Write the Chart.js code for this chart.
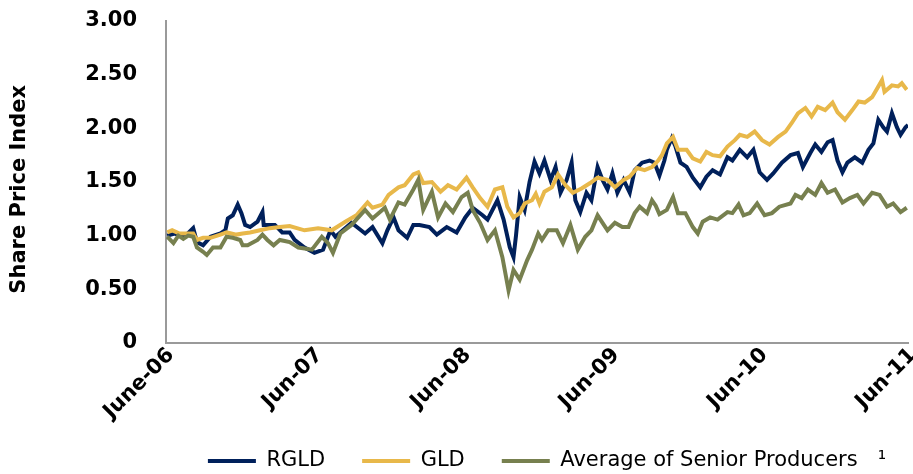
<!DOCTYPE html>
<html><head><meta charset="utf-8">
<script src="https://cdn.jsdelivr.net/npm/chart.js@4.4.1/dist/chart.umd.min.js"></script>
<style>html,body{margin:0;padding:0;background:#fff;}#wrap{width:913px;height:474px;}</style>
</head><body><div id="wrap"><canvas id="c" width="913" height="474"></canvas></div>
<script>
// ---- data (months since June 2006, share price index) ----
const xTickLabels = ['June-06','Jun-07','Jun-08','Jun-09','Jun-10','Jun-11'];
const yTickLabels = ['0','0.50','1.00','1.50','2.00','2.50','3.00'];
const yAxisTitle = 'Share Price Index';
const seriesNames = ['RGLD','GLD','Average of Senior Producers\u00A0\u00A0\u00A0\u00B9'];
const seriesColors = ['#00205b','#e8b84a','#77804f'];

const rgldMonths = [0.1,0.7,1.5,2.2,2.5,3.0,3.6,4.4,4.8,5.0,
  5.4,5.8,6.1,6.4,6.8,7.4,7.8,7.9,8.4,8.8,
  9.4,10.0,10.4,11.2,12.0,12.7,13.3,13.7,14.3,15.0,
  16.1,16.7,17.5,17.9,18.4,18.8,19.5,20.0,20.5,21.3,
  21.9,22.7,23.5,24.2,24.8,25.6,26.0,26.8,27.3,27.8,
  28.1,28.3,28.6,29.0,29.4,29.8,30.2,30.6,31.1,31.5,
  31.9,32.4,32.8,33.1,33.5,34.0,34.4,34.9,35.3,35.7,
  36.1,36.5,37.0,37.5,37.9,38.5,39.1,39.5,39.9,40.3,
  40.5,40.9,41.2,41.6,42.1,42.6,43.2,43.7,44.2,44.8,
  45.4,45.8,46.4,47.0,47.5,48.0,48.6,49.1,49.8,50.5,
  51.1,51.5,52.1,52.5,53.0,53.5,53.9,54.3,54.7,55.1,
  55.7,56.3,56.8,57.2,57.6,58.0,58.3,58.7,59.1,59.4,
  59.8,60.0];
const rgldValues = [1.00,1.02,0.99,1.07,0.94,0.91,0.99,1.02,1.05,1.16,
  1.19,1.29,1.21,1.10,1.08,1.13,1.22,1.10,1.10,1.10,
  1.03,1.03,0.96,0.89,0.84,0.87,1.05,0.99,1.05,1.12,
  1.02,1.08,0.93,1.05,1.17,1.05,0.98,1.10,1.10,1.08,
  1.01,1.08,1.03,1.17,1.26,1.19,1.15,1.33,1.15,0.89,
  0.80,1.00,1.36,1.24,1.50,1.69,1.58,1.70,1.52,1.64,
  1.40,1.52,1.68,1.33,1.22,1.40,1.33,1.64,1.52,1.43,
  1.58,1.40,1.52,1.40,1.61,1.68,1.70,1.68,1.56,1.70,
  1.80,1.91,1.83,1.68,1.64,1.54,1.45,1.55,1.61,1.57,
  1.73,1.70,1.80,1.73,1.80,1.59,1.52,1.58,1.68,1.75,
  1.77,1.64,1.77,1.85,1.78,1.87,1.89,1.70,1.59,1.68,
  1.73,1.68,1.80,1.86,2.08,2.01,1.97,2.14,2.01,1.94,
  2.01,2.03];

const gldMonths = [0.1,0.5,1.1,2.2,2.5,3.0,3.6,4.4,4.9,5.7,
  6.2,6.8,7.6,8.4,9.2,10.0,11.2,12.3,13.4,14.5,
  15.4,16.3,16.7,17.5,18.0,18.8,19.3,20.0,20.4,20.8,
  21.5,22.2,22.8,23.5,24.3,24.8,25.4,26.0,26.6,27.2,
  27.6,28.1,28.6,29.0,29.6,29.9,30.2,30.6,31.2,31.7,
  32.3,32.9,33.6,34.3,34.9,35.7,36.3,37.0,37.5,38.1,
  38.7,39.3,39.8,40.1,40.5,41.0,41.4,42.1,42.6,43.2,
  43.7,44.2,44.8,45.4,46.0,46.4,47.0,47.6,48.2,48.8,
  49.5,50.1,50.6,51.1,51.7,52.2,52.7,53.3,53.9,54.3,
  54.9,55.5,56.0,56.5,57.1,57.6,57.9,58.1,58.7,59.2,
  59.5,59.9];
const gldValues = [1.03,1.05,1.02,1.02,0.96,0.98,0.98,1.01,1.03,1.01,
  1.02,1.03,1.05,1.07,1.08,1.09,1.05,1.07,1.05,1.13,
  1.19,1.31,1.26,1.29,1.38,1.45,1.47,1.57,1.59,1.49,
  1.50,1.41,1.47,1.43,1.54,1.45,1.35,1.27,1.43,1.45,
  1.27,1.17,1.21,1.30,1.33,1.39,1.30,1.41,1.45,1.57,
  1.47,1.40,1.44,1.49,1.54,1.52,1.45,1.52,1.55,1.63,
  1.61,1.64,1.70,1.75,1.86,1.92,1.80,1.80,1.72,1.69,
  1.78,1.75,1.74,1.83,1.89,1.94,1.92,1.97,1.89,1.85,
  1.92,1.97,2.05,2.14,2.19,2.11,2.20,2.17,2.24,2.15,
  2.08,2.17,2.25,2.24,2.29,2.39,2.45,2.34,2.40,2.39,
  2.42,2.36];

const seniorMonths = [0.1,0.6,1.0,1.4,1.8,2.2,2.5,3.0,3.3,3.8,
  4.4,4.9,5.4,6.0,6.2,6.6,7.4,7.8,8.2,8.7,
  9.2,9.6,10.0,10.7,11.8,12.6,13.1,13.5,14.1,15.0,
  16.1,16.7,17.7,18.1,18.8,19.3,20.0,20.4,20.8,21.5,
  22.0,22.6,23.2,23.9,24.4,24.8,25.4,26.0,26.6,27.2,
  27.7,28.1,28.6,29.2,29.6,30.1,30.4,30.9,31.6,32.1,
  32.7,33.3,33.9,34.4,34.9,35.3,35.7,36.3,36.9,37.4,
  37.9,38.3,38.9,39.3,39.6,39.9,40.5,41.0,41.4,42.0,
  42.6,43.0,43.4,44.0,44.6,45.4,45.8,46.3,46.7,47.2,
  47.8,48.4,49.0,49.6,50.5,50.9,51.4,51.9,52.5,53.0,
  53.5,54.1,54.7,55.3,55.9,56.4,57.1,57.7,58.3,58.8,
  59.4,59.9];
const seniorValues = [0.99,0.93,1.00,0.97,1.00,0.99,0.89,0.85,0.82,0.89,
  0.89,0.99,0.98,0.96,0.91,0.91,0.96,1.01,0.96,0.91,
  0.96,0.95,0.94,0.89,0.87,0.99,0.93,0.84,1.02,1.10,
  1.24,1.16,1.26,1.15,1.31,1.29,1.43,1.52,1.24,1.41,
  1.17,1.30,1.22,1.36,1.40,1.24,1.12,0.96,1.05,0.80,
  0.49,0.68,0.59,0.77,0.87,1.02,0.96,1.05,1.05,0.93,
  1.10,0.87,0.99,1.05,1.19,1.12,1.05,1.12,1.08,1.08,
  1.21,1.27,1.21,1.33,1.28,1.20,1.24,1.36,1.21,1.21,
  1.08,1.02,1.13,1.17,1.15,1.22,1.21,1.29,1.19,1.21,
  1.30,1.19,1.21,1.27,1.30,1.38,1.35,1.43,1.38,1.49,
  1.40,1.43,1.31,1.35,1.38,1.30,1.40,1.38,1.27,1.30,
  1.22,1.26];

// ---- build chart ----
const toPoints = (xs, ys) => xs.map((x, i) => ({x: x, y: ys[i]}));
const LEGEND_DX = 93, LEGEND_DY = -24.5;

const legendShift = {
  id: 'legendShift',
  afterLayout(chart) {
    const L = chart.legend;
    if (!L) return;
    L.left += LEGEND_DX; L.right += LEGEND_DX;
    L.top += LEGEND_DY; L.bottom += LEGEND_DY;
  }
};

const mk = (i, xs, ys, order) => ({
  label: seriesNames[i],
  data: toPoints(xs, ys),
  borderColor: seriesColors[i],
  backgroundColor: seriesColors[i],
  borderWidth: 4,
  pointRadius: 0,
  tension: 0,
  order: order
});

const tickFont = {family: "'DejaVu Sans', Verdana, sans-serif", size: 21, weight: 'bold'};

new Chart(document.getElementById('c'), {
  type: 'line',
  data: {
    datasets: [
      mk(0, rgldMonths, rgldValues, 3),
      mk(1, gldMonths, gldValues, 2),
      mk(2, seniorMonths, seniorValues, 1)
    ]
  },
  options: {
    responsive: false,
    animation: false,
    devicePixelRatio: 1,
    layout: {padding: {left: 0, right: 5, top: 21, bottom: -32}},
    plugins: {
      tooltip: {enabled: false},
      legend: {
        position: 'bottom',
        labels: {
          font: {family: "'DejaVu Sans', Verdana, sans-serif", size: 21},
          color: '#000',
          boxWidth: 48,
          boxHeight: 4,
          padding: 37,
          sort: (a, b) => a.datasetIndex - b.datasetIndex,
          generateLabels(chart) {
            const items = Chart.defaults.plugins.legend.labels.generateLabels(chart);
            items.forEach(it => { it.lineWidth = 0; it.fillStyle = it.strokeStyle; });
            return items;
          }
        }
      }
    },
    scales: {
      x: {
        type: 'linear',
        min: 0, max: 60,
        grid: {display: false, drawTicks: false},
        border: {display: true, color: '#9a9a9a', width: 2},
        ticks: {
          stepSize: 12,
          autoSkip: false,
          minRotation: 45, maxRotation: 45,
          padding: 0,
          labelOffset: 5,
          color: '#000',
          font: tickFont,
          callback: (v) => xTickLabels[Math.round(v / 12)]
        },
        afterFit(s) { s.height = 95; s.paddingLeft = 0; s.paddingRight = 0; }
      },
      y: {
        min: 0, max: 3,
        grid: {display: false, drawTicks: false},
        border: {display: true, color: '#9a9a9a', width: 2},
        ticks: {
          stepSize: 0.5,
          padding: 29,
          color: '#000',
          font: tickFont,
          callback: (v) => yTickLabels[Math.round(v / 0.5)]
        },
        title: {
          display: true,
          text: yAxisTitle + '\u00A0\u00A0',
          color: '#000',
          padding: {top: 7, bottom: 0},
          font: tickFont
        },
        afterFit(s) { s.width = 166; s.paddingTop = 0; s.paddingBottom = 0; }
      }
    }
  },
  plugins: [legendShift]
});
</script>
</body></html>
